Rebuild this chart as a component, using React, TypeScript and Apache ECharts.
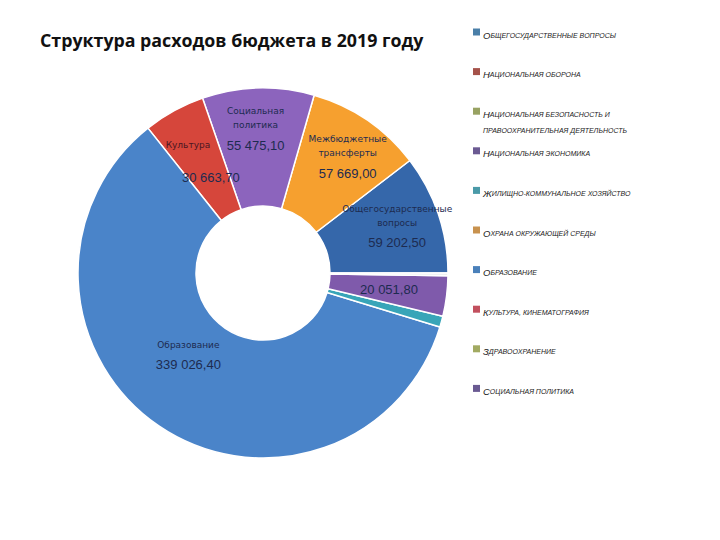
import React, { useEffect, useRef } from "react";
import * as echarts from "echarts";

const titleText = "Структура расходов бюджета в 2019 году";

// Pie slices, counter-clockwise from 3 o'clock
const sliceNames = [
  "Общегосударственные вопросы",
  "Межбюджетные трансферты",
  "Социальная политика",
  "Культура",
  "Образование",
  "Жилищно-коммунальное хозяйство",
  "Национальная экономика",
  "Национальная безопасность и правоохранительная деятельность",
];
const sliceValues = [59202.5, 57669.0, 55475.1, 30663.7, 339026.4, 5500, 20051.8, 1300];
const sliceLabelNames = [
  "Общегосударственные\nвопросы",
  "Межбюджетные\nтрансферты",
  "Социальная\nполитика",
  "Культура",
  "Образование",
  "",
  "",
  "",
];
const sliceShowValue = [true, true, true, true, true, false, true, false];
const sliceColors = ["#3567aa", "#f6a02f", "#8c64bd", "#d6463b", "#4a84c9", "#38a5b8", "#7f5aab", "#eef0f2"];
// label nudges (layout only)
const labelShift = [
  [12, -3],
  [12, -7],
  [-4, -13],
  [-13, 11],
  [-2, -22],
  [0, 0],
  [-2, 0],
  [0, 0],
];

// Legend (as in the original slide)
const legendNames = [
  "Общегосударственные вопросы",
  "Национальная оборона",
  "Национальная безопасность и\nправоохранительная деятельность",
  "Национальная экономика",
  "Жилищно-коммунальное хозяйство",
  "Охрана окружающей среды",
  "Образование",
  "Культура, кинематография",
  "Здравоохранение",
  "Социальная политика",
];
const legendColors = ["#4a7fa8", "#a5524a", "#98a262", "#6b5a92", "#4a9aa8", "#c8924e", "#4a80ba", "#c2505e", "#a2aa62", "#6a5a92"];

function fmtRu(v: number): string {
  const [i, d] = v.toFixed(2).split(".");
  return i.replace(/\B(?=(\d{3})+(?!\d))/g, " ") + "," + d;
}

function smallCaps(s: string): string {
  return s
    .split("\n")
    .map((line) => {
      let out = "";
      let buf = "";
      let mode = "";
      const flush = () => {
        if (buf) out += "{" + mode + "|" + buf + "}";
        buf = "";
      };
      for (const ch of line) {
        const isUpper = ch !== ch.toLowerCase();
        const m = isUpper ? "big" : "sm";
        if (m !== mode) {
          flush();
          mode = m;
        }
        buf += ch.toUpperCase();
      }
      flush();
      return out;
    })
    .join("\n");
}

export default function App() {
  const ref = useRef<HTMLDivElement>(null);
  useEffect(() => {
    if (!ref.current) return;
    const chart = echarts.init(ref.current, undefined, { renderer: "svg" });

    const data = sliceNames.map((n, i) => ({
      name: n,
      value: sliceValues[i],
      itemStyle: { color: sliceColors[i] },
      label: { show: sliceShowValue[i] },
    }));

    const legendGraphics: any[] = [];
    legendNames.forEach((n, i) => {
      const y = 32 + i * 39.6;
      legendGraphics.push({
        type: "rect",
        shape: { x: 473, y: y - 3.5, width: 7, height: 7 },
        style: { fill: legendColors[i] },
      });
      legendGraphics.push({
        type: "text",
        x: 483,
        y: y - 5,
        style: {
          text: smallCaps(n),
          fill: "#222222",
          verticalAlign: "top",
          rich: {
            big: { fontSize: 9.5, fontStyle: "italic", fontFamily: "Liberation Sans", fill: "#222222", color: "#222222", lineHeight: 16 },
            sm: { fontSize: 7, fontStyle: "italic", fontFamily: "Liberation Sans", fill: "#222222", color: "#222222", lineHeight: 16 },
          },
        },
      });
    });

    chart.setOption({
      animation: false,
      backgroundColor: "#ffffff",
      title: {
        text: titleText,
        left: 35,
        top: 26,
        textStyle: { fontFamily: "Open Sans", fontWeight: "bold", fontSize: 17.8, color: "#111" },
      },
      graphic: legendGraphics,
      series: [
        {
          type: "pie",
          center: [263, 273],
          radius: [67, 185],
          startAngle: 0,
          clockwise: false,
          avoidLabelOverlap: false,
          itemStyle: { borderColor: "#ffffff", borderWidth: 1.5 },
          labelLine: { show: false },
          labelLayout: (p: any) => ({
            hideOverlap: false,
            dx: labelShift[p.dataIndex][0],
            dy: labelShift[p.dataIndex][1],
          }),
          label: {
            position: "inside",
            formatter: (p: any) => {
              const nm = sliceLabelNames[p.dataIndex];
              const isK = p.dataIndex === 3;
              const v = "{" + (isK ? "valk" : "val") + "|" + fmtRu(p.value) + "}";
              if (!nm) return v;
              const style = isK ? "nmk" : "nm";
              return nm
                .split("\n")
                .map((l) => "{" + style + "|" + l + "}")
                .join("\n") + "\n" + v;
            },
            rich: {
              nm: { fontFamily: "DejaVu Sans", fontSize: 9, color: "#1d2b50", lineHeight: 14 },
              nmk: { fontFamily: "DejaVu Sans", fontSize: 9, color: "#4a1622", lineHeight: 14 },
              val: { fontFamily: "Liberation Sans", fontSize: 13, color: "#1d2b50", lineHeight: 26 },
              valk: { fontFamily: "Liberation Sans", fontSize: 13, color: "#1d2b50", lineHeight: 52, padding: [0, 0, 0, 46] },
            },
          },
          data,
        },
      ],
    });
    return () => chart.dispose();
  }, []);
  return (
    <div
      ref={ref}
      style={{ position: "fixed", left: 0, top: 0, width: 720, height: 540, background: "#fff" }}
    />
  );
}
